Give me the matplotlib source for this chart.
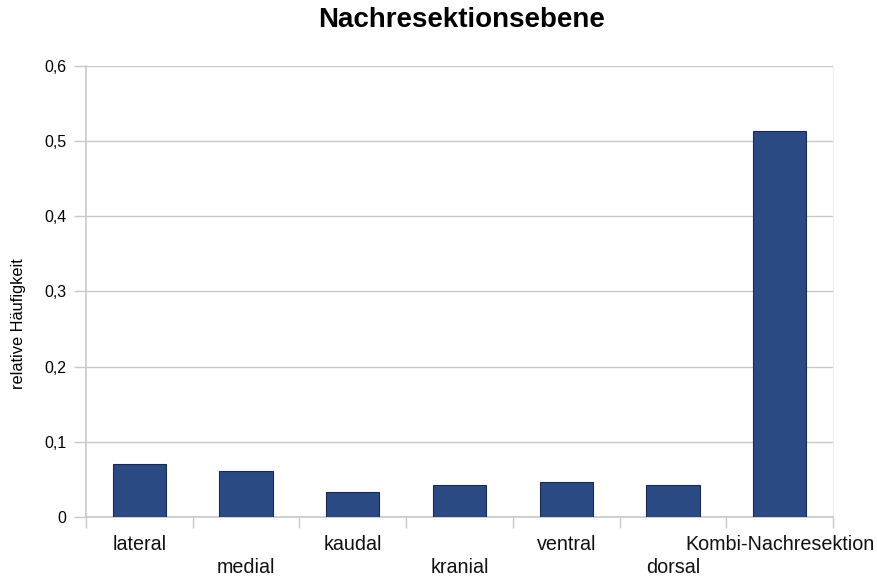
import numpy as np
import matplotlib.pyplot as plt

# data
categories = ["lateral", "medial", "kaudal", "kranial", "ventral", "dorsal", "Kombi-Nachresektion"]
values = [0.071, 0.061, 0.033, 0.043, 0.047, 0.043, 0.514]
yticks = [0, 0.1, 0.2, 0.3, 0.4, 0.5, 0.6]
ytick_labels = ["0", "0,1", "0,2", "0,3", "0,4", "0,5", "0,6"]

plt.rcParams['font.family'] = ['Liberation Sans', 'DejaVu Sans']

fig = plt.figure(figsize=(8.77, 5.78), dpi=100)
ax = fig.add_axes([0.098, 0.1055, 0.852, 0.7805])

x = np.arange(len(categories))
ax.bar(x, values, width=0.5, color="#2b4a84", edgecolor="#1b2b4b", linewidth=0.8, zorder=3)

ax.set_xlim(-0.5, len(categories) - 0.5)
ax.set_ylim(0, 0.6)
ax.set_yticks(yticks)
ax.set_yticklabels(ytick_labels, fontsize=11.5)
ax.yaxis.grid(True, color="#c8c8c8", linewidth=1, zorder=0)

# tick marks at category boundaries, labels placed in two staggered rows
ax.set_xticks(np.arange(len(categories) + 1) - 0.5)
ax.set_xticklabels([])
ax.tick_params(axis="x", length=8, color="#c8c8c8", width=1)
ax.tick_params(axis="y", length=9, color="#c8c8c8", width=1, pad=5)
for i, name in enumerate(categories):
    ypos = -0.062 if i % 2 == 0 else -0.113
    ax.text(i, ypos, name, transform=ax.get_xaxis_transform(),
            ha="center", va="center", fontsize=14.2, color="#111111")

ax.spines["top"].set_visible(False)
ax.spines["left"].set_color("#c8c8c8")
ax.spines["bottom"].set_color("#c8c8c8")
ax.spines["right"].set_color("#eeeeee")
ax.spines["left"].set_linewidth(1.2)
ax.spines["bottom"].set_linewidth(1.2)

fig.text(0.021, 0.44, "relative Häufigkeit", rotation=90, ha="center", va="center",
         fontsize=11.8)
fig.text(0.526, 0.965, "Nachresektionsebene", ha="center", va="center",
         fontsize=20, fontweight="bold")

fig.savefig("out.png", dpi=100)
